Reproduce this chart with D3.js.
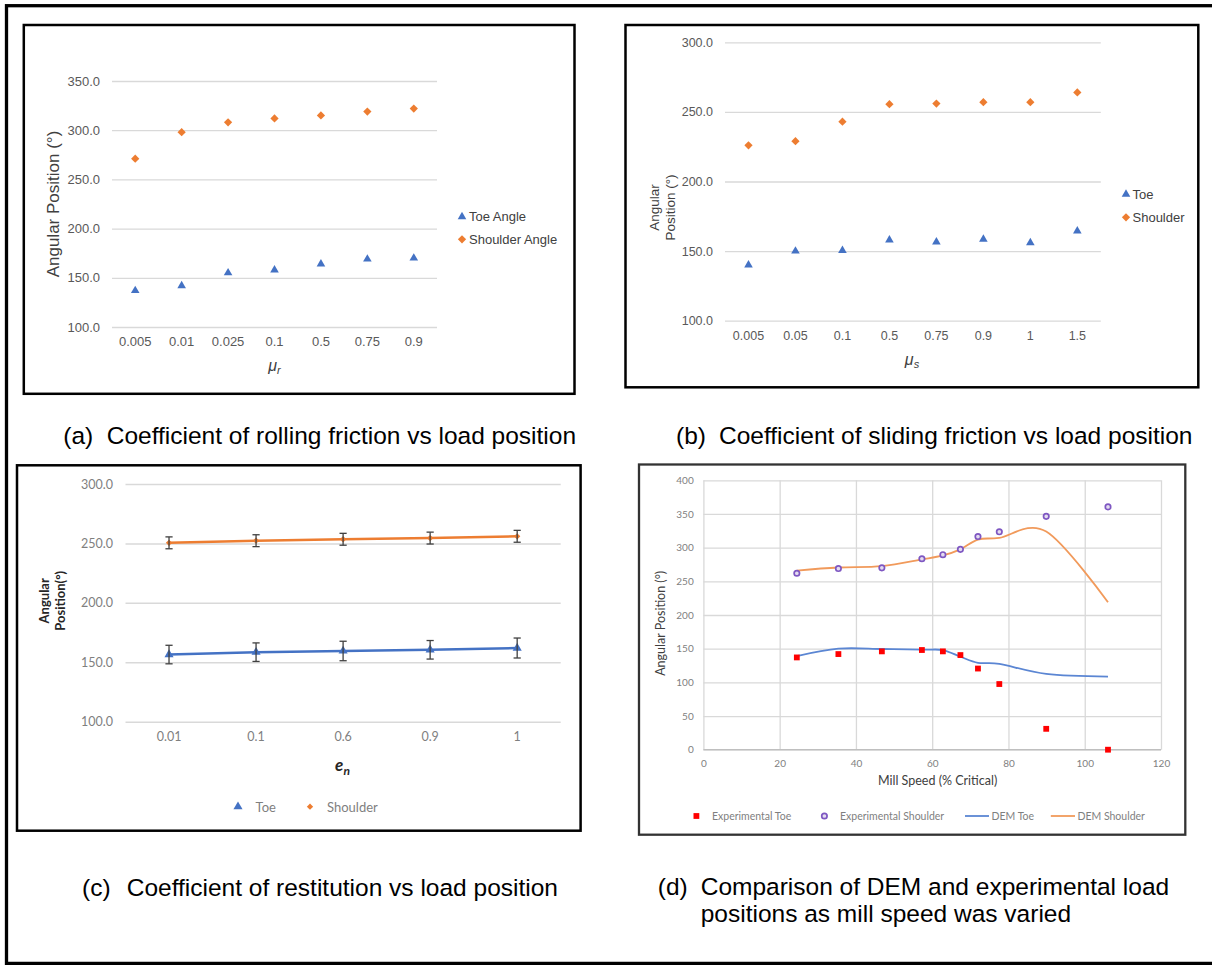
<!DOCTYPE html>
<html><head><meta charset="utf-8">
<script src="https://cdn.jsdelivr.net/npm/d3@7"></script>
<style>body{margin:0;background:#fff}svg{display:block}</style>
</head><body>
<svg id="fig" width="1212" height="965"></svg>
<script>
// ---------- DATA ----------
// (a) rolling friction
const rollCats = ["0.005","0.01","0.025","0.1","0.5","0.75","0.9"];
const rollToe = [137, 142, 155, 158, 164, 169, 170];
const rollShoulder = [271, 298, 308, 312, 315, 319, 322];
const rollTicks = [100, 150, 200, 250, 300, 350];
// (b) sliding friction
const slideCats = ["0.005","0.05","0.1","0.5","0.75","0.9","1","1.5"];
const slideToe = [140, 150, 150.5, 158, 156.5, 158.5, 156, 164.5];
const slideShoulder = [226, 229, 243, 255.5, 256, 257, 257, 264];
const slideTicks = [100, 150, 200, 250, 300];
// (c) restitution
const restCats = ["0.01","0.1","0.6","0.9","1"];
const restToe = [156.5, 158.5, 159.5, 160.5, 162];
const restToeErr = [7.8, 7.8, 8.2, 7.8, 8.4];
const restShoulder = [250.5, 252.3, 253.5, 254.5, 256];
const restShoulderErr = [5, 5, 5, 5, 5];
const restTicks = [100, 150, 200, 250, 300];
// (d) mill speed
const speed = [24.5, 35.4, 46.8, 57.3, 62.8, 67.4, 72.0, 77.6, 89.9, 106.1];
const expToe = [137, 142, 146, 148, 146, 140.5, 120.5, 97.5, 31, 0];
const expShoulder = [262, 269, 270, 283.5, 289.5, 297.5, 316.5, 323.5, 346.5, 360.5];
const demToe = [139, 150, 149.5, 148.5, 148, 138, 129, 127.5, 112.5, 108.5];
const demShoulder = [266, 270.5, 272.5, 282.5, 288.5, 297.5, 312, 314.5, 324, 219];
const speedTicks = [0, 20, 40, 60, 80, 100, 120];
const angleTicks = [0, 50, 100, 150, 200, 250, 300, 350, 400];

// ---------- STYLE ----------
const BLUE = "#4472C4", ORANGE = "#ED7D31";
const ARIAL = "'Liberation Sans', Arial, sans-serif";
const CAL = "Lato, 'Open Sans', sans-serif";

const svg = d3.select("#fig");
svg.append("rect").attr("width",1212).attr("height",965).attr("fill","#fff");

// outer frame
svg.append("rect").attr("x",6.5).attr("y",5.7).attr("width",1240).attr("height",957.7)
  .attr("fill","none").attr("stroke","#000").attr("stroke-width",3.3);

function box(x0,y0,x1,y1,color,w){
  svg.append("rect").attr("x",x0).attr("y",y0).attr("width",x1-x0).attr("height",y1-y0)
    .attr("fill","#fff").attr("stroke",color).attr("stroke-width",w);
}
const diamond = {draw(ctx,size){const r=Math.sqrt(size/2);ctx.moveTo(0,-r);ctx.lineTo(r,0);ctx.lineTo(0,r);ctx.lineTo(-r,0);ctx.closePath();}};
const tri = d3.symbolTriangle;

function styleAxis(g, font, size, color){
  g.select(".domain").remove();
  g.selectAll("text").attr("font-family",font).attr("font-size",size).attr("fill",color);
}

// category scatter panel (a,b)
function catPanel(o){
  const x = d3.scaleBand().domain(o.cats).range([o.x0,o.x1]);
  const y = d3.scaleLinear().domain(o.yd).range([o.yb,o.yt]);
  const gy = svg.append("g").attr("transform",`translate(${o.x0},0)`)
    .call(d3.axisLeft(y).tickValues(o.ticks).tickFormat(d3.format(".1f")).tickSize(-(o.x1-o.x0)).tickPadding(o.pad));
  styleAxis(gy, o.font, o.fs, "#595959");
  gy.selectAll(".tick line").attr("stroke","#d9d9d9").attr("stroke-width",1.3);
  const gx = svg.append("g").attr("transform",`translate(0,${o.yb})`)
    .call(d3.axisBottom(x).tickSize(0).tickPadding(o.xpad));
  styleAxis(gx, o.font, o.fs, "#595959");
  const cx = d => x(d)+x.bandwidth()/2;
  o.series.forEach(s=>{
    svg.append("g").selectAll("path").data(o.cats).join("path")
      .attr("transform",(d,i)=>`translate(${cx(d)},${y(s.vals[i])})`)
      .attr("d",d3.symbol().type(s.sym).size(s.size)).attr("fill",s.color);
  });
  return {x,y,cx};
}

// ---------- (a) ----------
box(23.8,25,574.5,393.8,"#000",2.5);
catPanel({cats:rollCats, x0:112, x1:437, yd:[100,350], yb:327, yt:81, ticks:rollTicks, pad:12, xpad:10,
  font:ARIAL, fs:13,
  series:[{vals:rollToe,sym:tri,size:32,color:BLUE},{vals:rollShoulder,sym:diamond,size:34,color:ORANGE}]});
svg.append("text").attr("transform","translate(53.6,204) rotate(-90)").attr("text-anchor","middle")
  .attr("dominant-baseline","central").attr("font-family",ARIAL).attr("font-size",17).attr("fill","#404040")
  .text("Angular Position (°)");
{
  const t = svg.append("text").attr("x",274.4).attr("y",371).attr("text-anchor","middle")
    .attr("font-family",ARIAL).attr("font-size",16).attr("fill","#404040").attr("font-style","italic");
  t.append("tspan").text("μ");
  t.append("tspan").attr("font-size",11).attr("dy",3).text("r");
}
[["Toe Angle",tri,32,BLUE,216.7],["Shoulder Angle",diamond,34,ORANGE,239.3]].forEach(r=>{
  svg.append("path").attr("transform",`translate(462,${r[4]})`).attr("d",d3.symbol().type(r[1]).size(r[2])).attr("fill",r[3]);
  svg.append("text").attr("x",469).attr("y",r[4]).attr("dominant-baseline","central")
    .attr("font-family",ARIAL).attr("font-size",13).attr("fill","#404040").text(r[0]);
});

// ---------- (b) ----------
box(625.5,25,1198.3,387.3,"#000",2.5);
catPanel({cats:slideCats, x0:725, x1:1100.8, yd:[100,300], yb:320.7, yt:42.3, ticks:slideTicks, pad:12, xpad:10,
  font:ARIAL, fs:12.5,
  series:[{vals:slideToe,sym:tri,size:32,color:BLUE},{vals:slideShoulder,sym:diamond,size:34,color:ORANGE}]});
{
  const t = svg.append("text").attr("transform","translate(662.3,207.5) rotate(-90)").attr("text-anchor","middle")
    .attr("font-family",ARIAL).attr("font-size",13.5).attr("fill","#404040");
  t.append("tspan").attr("x",0).attr("y",-3).text("Angular");
  t.append("tspan").attr("x",0).attr("y",12.4).text("Position (°)");
}
{
  const t = svg.append("text").attr("x",912).attr("y",365).attr("text-anchor","middle")
    .attr("font-family",ARIAL).attr("font-size",16).attr("fill","#404040").attr("font-style","italic");
  t.append("tspan").text("μ");
  t.append("tspan").attr("font-size",11).attr("dy",3).text("s");
}
[["Toe",tri,32,BLUE,194.3],["Shoulder",diamond,34,ORANGE,217.3]].forEach(r=>{
  svg.append("path").attr("transform",`translate(1126,${r[4]})`).attr("d",d3.symbol().type(r[1]).size(r[2])).attr("fill",r[3]);
  svg.append("text").attr("x",1132.5).attr("y",r[4]).attr("dominant-baseline","central")
    .attr("font-family",ARIAL).attr("font-size",13).attr("fill","#404040").text(r[0]);
});

// ---------- (c) ----------
box(17,465.3,580.6,830.7,"#000",2.5);
{
  const x = d3.scaleBand().domain(restCats).range([125.5,560.7]);
  const y = d3.scaleLinear().domain([100,300]).range([721.7,484]);
  const cx = d => x(d)+x.bandwidth()/2;
  const gy = svg.append("g").attr("transform","translate(125.5,0)")
    .call(d3.axisLeft(y).tickValues(restTicks).tickFormat(d3.format(".1f")).tickSize(-(560.7-125.5)).tickPadding(12.5));
  styleAxis(gy, CAL, 12.5, "#7f7f7f");
  gy.selectAll(".tick line").attr("stroke","#d9d9d9").attr("stroke-width",1.5);
  const gx = svg.append("g").attr("transform","translate(0,721.7)").call(d3.axisBottom(x).tickSize(0).tickPadding(10));
  styleAxis(gx, CAL, 12.5, "#7f7f7f");
  const series = [
    {vals:restShoulder, err:restShoulderErr, color:ORANGE, sym:diamond, size:20},
    {vals:restToe, err:restToeErr, color:BLUE, sym:tri, size:36}
  ];
  series.forEach(s=>{
    const line = d3.line().x(d=>cx(d)).y((d,i)=>y(s.vals[i]));
    svg.append("path").attr("d",line(restCats)).attr("fill","none").attr("stroke",s.color).attr("stroke-width",2.5);
    svg.append("g").selectAll("path").data(restCats).join("path")
      .attr("transform",(d,i)=>`translate(${cx(d)},${y(s.vals[i])})`)
      .attr("d",d3.symbol().type(s.sym).size(s.size)).attr("fill",s.color);
    const eb = svg.append("g").attr("stroke","#404040").attr("stroke-width",1.3).attr("fill","none");
    restCats.forEach((c,i)=>{
      const xc = cx(c), yt = y(s.vals[i]+s.err[i]), ybm = y(s.vals[i]-s.err[i]);
      eb.append("line").attr("x1",xc).attr("x2",xc).attr("y1",yt).attr("y2",ybm);
      eb.append("line").attr("x1",xc-3.6).attr("x2",xc+3.6).attr("y1",yt).attr("y2",yt);
      eb.append("line").attr("x1",xc-3.6).attr("x2",xc+3.6).attr("y1",ybm).attr("y2",ybm);
    });
  });
  const t = svg.append("text").attr("transform","translate(52.6,600.8) rotate(-90)").attr("text-anchor","middle")
    .attr("font-family",CAL).attr("font-size",13).attr("font-weight","bold").attr("fill","#262626");
  t.append("tspan").attr("x",0).attr("y",-4).text("Angular");
  t.append("tspan").attr("x",0).attr("y",12.5).text("Position(°)");
  const e = svg.append("text").attr("x",342.5).attr("y",771).attr("text-anchor","middle")
    .attr("font-family",CAL).attr("font-size",17).attr("font-weight","bold").attr("font-style","italic").attr("fill","#262626");
  e.append("tspan").text("e");
  e.append("tspan").attr("font-size",12).attr("dy",4).text("n");
  [["Toe",tri,36,BLUE,238,255.6],["Shoulder",diamond,20,ORANGE,310,327]].forEach(r=>{
    svg.append("path").attr("transform",`translate(${r[4]},806.7)`).attr("d",d3.symbol().type(r[1]).size(r[2])).attr("fill",r[3]);
    svg.append("text").attr("x",r[5]).attr("y",806.7).attr("dominant-baseline","central")
      .attr("font-family",CAL).attr("font-size",13).attr("fill","#7f7f7f").text(r[0]);
  });
}

// ---------- (d) ----------
box(639,464.5,1185.3,834.7,"#333",2.3);
{
  const x = d3.scaleLinear().domain([0,120]).range([703.4,1161]);
  const y = d3.scaleLinear().domain([0,400]).range([749.7,480.3]);
  const gy = svg.append("g").attr("transform","translate(703.4,0)")
    .call(d3.axisLeft(y).tickValues(angleTicks).tickSize(-(1161-703.4)).tickPadding(9.7));
  styleAxis(gy, CAL, 10, "#7f7f7f");
  gy.selectAll(".tick line").attr("stroke","#d9d9d9").attr("stroke-width",1.3);
  const gx = svg.append("g").attr("transform","translate(0,749.7)")
    .call(d3.axisBottom(x).tickValues(speedTicks).tickSize(-(749.7-480.3)).tickPadding(10));
  styleAxis(gx, CAL, 10, "#7f7f7f");
  gx.selectAll(".tick line").attr("stroke","#d9d9d9").attr("stroke-width",1.3);
  svg.append("line").attr("x1",703.4).attr("x2",1161).attr("y1",749.7).attr("y2",749.7)
    .attr("stroke","#bfbfbf").attr("stroke-width",1.3);

  const curve = d3.curveCardinal.tension(0);
  const lineT = d3.line().x((d,i)=>x(speed[i])).y(d=>y(d)).curve(curve);
  svg.append("path").attr("d",lineT(demToe)).attr("fill","none").attr("stroke","#5B86D3").attr("stroke-width",1.8);
  svg.append("path").attr("d",lineT(demShoulder)).attr("fill","none").attr("stroke","#F19A5B").attr("stroke-width",1.8);
  svg.append("g").selectAll("rect").data(expToe).join("rect")
    .attr("x",(d,i)=>x(speed[i])-2.9).attr("y",d=>y(d)-2.9).attr("width",5.8).attr("height",5.8).attr("fill","#FF0000");
  svg.append("g").selectAll("circle").data(expShoulder).join("circle")
    .attr("cx",(d,i)=>x(speed[i])).attr("cy",d=>y(d)).attr("r",2.7)
    .attr("fill","#e4dcf0").attr("stroke","#7E57C2").attr("stroke-width",1.7);

  svg.append("text").attr("x",937.6).attr("y",780.7).attr("text-anchor","middle").attr("dominant-baseline","central")
    .attr("font-family",CAL).attr("font-size",12.5).attr("fill","#404040").text("Mill Speed (% Critical)");
  svg.append("text").attr("transform","translate(660.5,623.3) rotate(-90)").attr("text-anchor","middle")
    .attr("dominant-baseline","central").attr("font-family",CAL).attr("font-size",12.5).attr("fill","#404040")
    .text("Angular Position (°)");
  const ly = 816;
  svg.append("rect").attr("x",696.4-2.9).attr("y",ly-2.9).attr("width",5.8).attr("height",5.8).attr("fill","#FF0000");
  svg.append("circle").attr("cx",824.4).attr("cy",ly).attr("r",2.7).attr("fill","#e4dcf0").attr("stroke","#7E57C2").attr("stroke-width",1.7);
  svg.append("line").attr("x1",965).attr("x2",989).attr("y1",ly).attr("y2",ly).attr("stroke","#5B86D3").attr("stroke-width",1.8);
  svg.append("line").attr("x1",1050.8).attr("x2",1075).attr("y1",ly).attr("y2",ly).attr("stroke","#F19A5B").attr("stroke-width",1.8);
  [["Experimental Toe",712],["Experimental Shoulder",840],["DEM Toe",991.5],["DEM Shoulder",1077.4]].forEach(r=>{
    svg.append("text").attr("x",r[1]).attr("y",ly).attr("dominant-baseline","central")
      .attr("font-family",CAL).attr("font-size",10.5).attr("fill","#7f7f7f").text(r[0]);
  });
}

// ---------- captions ----------
function caption(lbl, lx, tx, yc, txt){
  const base = yc + 8.6;
  svg.append("text").attr("x",lx).attr("y",base).attr("font-family",ARIAL).attr("font-size",24.5).attr("fill","#000").text(lbl);
  svg.append("text").attr("x",tx).attr("y",base).attr("font-family",ARIAL).attr("font-size",24.5).attr("fill","#000").text(txt);
}
caption("(a)",63.3,106.7,435,"Coefficient of rolling friction vs load position");
caption("(b)",676,719,435,"Coefficient of sliding friction vs load position");
caption("(c)",82,126.7,887.5,"Coefficient of restitution vs load position");
caption("(d)",657.8,700.7,886,"Comparison of DEM and experimental load");
svg.append("text").attr("x",700.7).attr("y",913+8.6).attr("font-family",ARIAL).attr("font-size",24.5).attr("fill","#000")
  .text("positions as mill speed was varied");
</script>
</body></html>
